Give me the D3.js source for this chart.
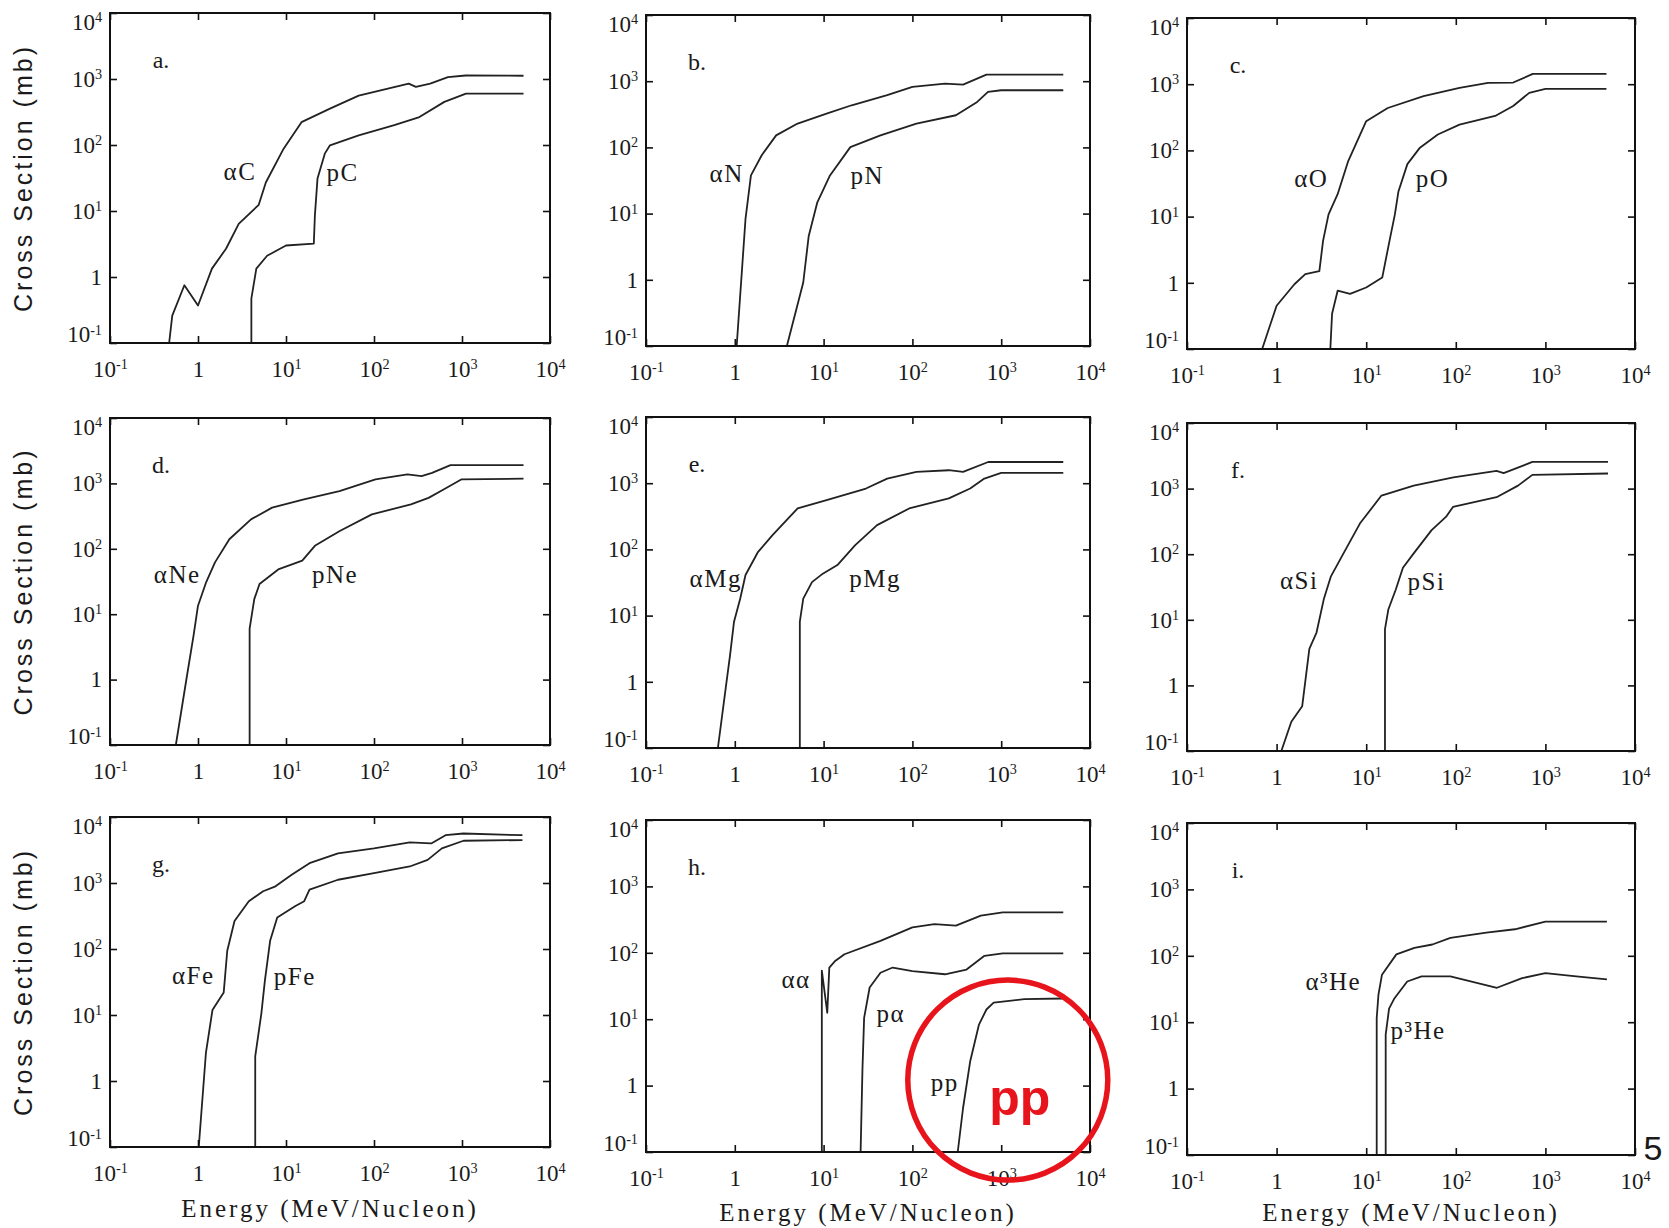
<!DOCTYPE html>
<html>
<head>
<meta charset="utf-8">
<script src="https://cdn.jsdelivr.net/npm/d3@7"></script>
<style>
  body { margin: 0; background: #fff; }
  svg { display: block; }
  .serif { font-family: 'Liberation Serif', 'DejaVu Serif', serif; fill: #1a1a1a; }
  .sans { font-family: 'Liberation Sans', Arial, sans-serif; fill: #1a1a1a; }
</style>
</head>
<body>
<div id="chart"></div>
<script>
// Decade ticks, same on both axes
const energyTicks = [1e-1, 1, 1e1, 1e2, 1e3, 1e4];
const sigmaTicks = [1e-1, 1, 1e1, 1e2, 1e3, 1e4];

const panelLetters = ['a.', 'b.', 'c.', 'd.', 'e.', 'f.', 'g.', 'h.', 'i.'];

// Curves: [energy (MeV/nucleon), cross section (mb)]
const alphaC = [[0.47,0.1],[0.51,0.26],[0.70,0.75],[1.0,0.37],[1.44,1.34],[2.09,2.7],[2.9,6.4],[4.9,12.4],[5.9,27],[9.4,88],[15,222],[31.6,355],[67,560],[248,850],[299,760],[435,850],[692,1070],[1100,1130],[5000,1120]];
const pC = [[4.04,0.1],[4.04,0.47],[4.6,1.34],[6.1,2.1],[10,3.0],[20.7,3.2],[21.3,8.6],[22.8,31],[27.6,74],[31.6,99],[67,140],[170,200],[328,265],[630,450],[1110,600],[5000,600]];

const alphaN = [[1.05,0.1],[1.32,8.3],[1.52,37.7],[2.01,76],[2.92,152],[5.1,229],[10.8,323],[20.7,433],[52,614],[100,820],[233,920],[372,890],[682,1260],[5000,1260]];
const pN = [[3.86,0.1],[5.9,0.91],[6.8,4.6],[8.5,14.8],[11.8,37.7],[20,101],[43.7,152],[111,229],[309,306],[537,486],[710,690],[1000,730],[5000,730]];

const alphaO = [[0.69,0.1],[1.0,0.45],[1.58,0.95],[2.09,1.35],[3.0,1.5],[3.3,4.3],[3.8,10.8],[4.8,21.8],[6.3,69],[10,276],[17.4,437],[43.7,660],[110,880],[229,1050],[437,1060],[724,1430],[4800,1430]];
const pO = [[3.98,0.1],[4.16,0.34],[4.8,0.76],[6.6,0.68],[10,0.85],[15.1,1.2],[18.2,4.3],[20.9,10.8],[22.9,24],[28.8,62],[39.8,110],[63,174],[110,245],[275,331],[437,468],[660,740],[1000,850],[4800,850]];

const alphaNe = [[0.56,0.1],[0.74,1.03],[0.89,4.7],[1.0,13.5],[1.24,31],[1.56,62],[2.27,140],[4.0,282],[6.95,426],[16,570],[40.5,760],[104,1150],[240,1370],[347,1290],[457,1450],[740,1900],[5000,1900]];
const pNe = [[3.86,0.1],[3.86,6.0],[4.36,17],[5.0,29],[8.3,49],[15.3,66],[21.3,111],[40.8,187],[94.6,336],[263,478],[417,600],[610,800],[980,1150],[5000,1180]];

const alphaMg = [[0.645,0.1],[0.79,0.8],[0.885,2.55],[0.98,8.1],[1.15,18],[1.32,41],[1.83,92],[2.66,164],[5.1,417],[10.8,555],[30,830],[52,1175],[111,1480],[257,1570],[372,1480],[714,2090],[5000,2090]];
const pMg = [[5.4,0.1],[5.4,8.1],[5.9,18],[7.4,32],[9.8,43],[14.3,58],[22.7,116],[40,233],[92,415],[257,590],[447,830],[646,1175],[1000,1430],[5000,1430]];

const alphaSi = [[1.13,0.1],[1.46,0.28],[1.93,0.48],[2.32,3.6],[2.79,6.4],[3.36,20.5],[4.04,46],[5.33,92],[8.5,293],[14.8,783],[33.9,1110],[94,1480],[285,1860],[342,1720],[716,2550],[5000,2550]];
const pSi = [[16.2,0.1],[16.2,7.2],[17.7,14.5],[21.4,29],[25.7,62],[33.9,103],[53.7,233],[77.6,370],[93,525],[285,740],[495,1110],[716,1620],[5000,1700]];

const alphaFe = [[1.02,0.1],[1.23,2.66],[1.46,11.9],[1.96,22],[2.15,94],[2.6,266],[3.78,530],[5.5,750],[7.6,890],[11.6,1330],[18.5,2000],[39,2820],[100,3350],[255,4120],[447,3980],[650,5300],[1040,5620],[4860,5300]];
const pFe = [[4.47,0.1],[4.47,2.37],[5.25,10.6],[5.76,33.5],[6.6,133],[7.95,300],[12.8,447],[16.1,530],[18.5,794],[39,1120],[100,1410],[255,1780],[407,2240],[590,3350],[1040,4370],[4860,4470]];

const alphaAlpha = [[9.55,0.1],[9.55,54],[11,12.5],[11.6,60],[13.6,76],[17.2,95],[43.7,151],[100,241],[177,270],[309,257],[590,363],[1040,407],[5000,407]];
const pAlpha = [[26.1,0.1],[27.4,1.8],[28.6,10.5],[33,30],[43.7,50],[60,60],[100,53],[233,47.5],[407,56],[648,90],[1040,98],[5000,98]];
const pp = [[324,0.1],[372,0.46],[447,2.3],[562,8.3],[682,14],[822,17.8],[1820,20],[5000,20.5]];

const alpha3He = [[13.1,0.1],[13.1,11.5],[13.7,26],[15,52],[21.7,105],[34.5,132],[54.8,148],[87,186],[219,224],[457,251],[1000,327],[4860,327]];
const p3He = [[16.5,0.1],[16.5,6.5],[18,16],[20.7,23],[28.7,41],[41.5,49],[87,49],[288,33],[550,46],[1000,55],[2210,49],[4860,44]];

// Curve names and where their labels sit (in data units)
const curveNames = [
    ['αC', 'pC'], ['αN', 'pN'], ['αO', 'pO'],
    ['αNe', 'pNe'], ['αMg', 'pMg'], ['αSi', 'pSi'],
    ['αFe', 'pFe'], ['αα', 'pα', 'pp'], ['α³He', 'p³He']
];
const labelAt = [
    [[3, 39], [44, 38]], [[0.81, 41], [31, 37]], [[2.44, 38], [55, 37]],
    [[0.58, 40], [36, 40]], [[0.61, 36], [38, 36]], [[1.79, 40], [47, 38]],
    [[0.885, 39], [12.6, 38]], [[4.9, 40], [57, 12], [231, 1.1]], [[4.3, 41], [38, 7.6]]
];
const curves = [
    [alphaC, pC], [alphaN, pN], [alphaO, pO],
    [alphaNe, pNe], [alphaMg, pMg], [alphaSi, pSi],
    [alphaFe, pFe], [alphaAlpha, pAlpha, pp], [alpha3He, p3He]
];

// Annotation on panel h
const highlightCenter = [1186, 1.21];
const highlightText = 'pp';
const pageNumber = '5';

// Layout of the scanned frames (slightly skewed per panel)
const width = 1669, height = 1228;
const frameLeft = [110, 646, 1187];
const frameRight = [550, 1090, 1635];
const frameTop = [[13, 15, 18], [418, 417, 423], [817, 820, 823]];
const frameBottom = [[343, 346, 349], [745, 748, 751], [1147, 1152, 1155]];

const svg = d3.select('#chart')
    .append('svg')
    .attr('width', width)
    .attr('height', height);

svg.append('rect').attr('width', width).attr('height', height).attr('fill', '#fff');

// Write "10^n" with a raised exponent
function expLabel(text) {
    text.each(function (d) {
        const t = d3.select(this);
        const e = Math.round(Math.log10(d));
        t.text(null);
        if (e === 0) {
            t.text('1');
        } else {
            t.append('tspan').text('10');
            t.append('tspan')
                .attr('dy', '-0.55em')
                .attr('font-size', '0.62em')
                .text(e < 0 ? '-' + (-e) : e);
        }
    });
}

curves.forEach((set, i) => {
    const row = Math.floor(i / 3), col = i % 3;
    const x0 = frameLeft[col], x1 = frameRight[col];
    const y0 = frameTop[row][col], y1 = frameBottom[row][col];

    const x = d3.scaleLog().domain([1e-1, 1e4]).range([x0, x1]);
    const y = d3.scaleLog().domain([1e-1, 1e4]).range([y1, y0]);

    const g = svg.append('g').attr('class', 'panel');

    // curves
    const line = d3.line().x(d => x(d[0])).y(d => y(d[1]));
    g.selectAll('path.curve')
        .data(set)
        .enter()
        .append('path')
        .attr('class', 'curve')
        .attr('d', line)
        .attr('fill', 'none')
        .attr('stroke', '#222')
        .attr('stroke-width', 1.8)
        .attr('stroke-linejoin', 'round');

    // inward ticks on all four sides
    const tickLen = 7;
    const styleAxis = a => {
        a.select('.domain').remove();
        a.selectAll('.tick line').attr('stroke', '#111').attr('stroke-width', 1.6);
    };
    g.append('g')
        .attr('transform', `translate(0,${y1})`)
        .call(d3.axisBottom(x).tickValues(energyTicks).tickSize(-tickLen).tickPadding(18))
        .call(styleAxis)
        .call(a => a.selectAll('.tick text')
            .attr('class', 'serif')
            .attr('font-size', 23)
            .attr('fill', '#1a1a1a')
            .call(expLabel));
    g.append('g')
        .attr('transform', `translate(0,${y0})`)
        .call(d3.axisTop(x).tickValues(energyTicks).tickSize(-tickLen).tickFormat(''))
        .call(styleAxis);
    g.append('g')
        .attr('transform', `translate(${x0},0)`)
        .call(d3.axisLeft(y).tickValues(sigmaTicks).tickSize(-tickLen).tickPadding(8))
        .call(styleAxis)
        .call(a => a.selectAll('.tick text')
            .attr('class', 'serif')
            .attr('font-size', 23)
            .attr('fill', '#1a1a1a')
            .attr('dy', (d, k) => k === 0 ? '-0.05em' : (k === sigmaTicks.length - 1 ? '0.7em' : '0.32em'))
            .call(expLabel));
    g.append('g')
        .attr('transform', `translate(${x1},0)`)
        .call(d3.axisRight(y).tickValues(sigmaTicks).tickSize(-tickLen).tickFormat(''))
        .call(styleAxis);

    // frame
    g.append('rect')
        .attr('x', x0).attr('y', y0)
        .attr('width', x1 - x0).attr('height', y1 - y0)
        .attr('fill', 'none')
        .attr('stroke', '#111')
        .attr('stroke-width', 2);

    // panel letter
    g.append('text')
        .attr('class', 'serif')
        .attr('x', x0 + 51).attr('y', y0 + 47)
        .attr('text-anchor', 'middle')
        .attr('dominant-baseline', 'central')
        .attr('font-size', 24)
        .text(panelLetters[i]);

    // curve labels
    g.selectAll('text.curve-label')
        .data(curveNames[i])
        .enter()
        .append('text')
        .attr('class', 'serif curve-label')
        .attr('x', (d, k) => x(labelAt[i][k][0]))
        .attr('y', (d, k) => y(labelAt[i][k][1]))
        .attr('text-anchor', 'middle')
        .attr('dominant-baseline', 'central')
        .attr('font-size', 25)
        .attr('letter-spacing', 1.5)
        .text(d => d);

    // axis titles: y on the left column, x on the bottom row
    if (col === 0) {
        g.append('text')
            .attr('class', 'sans')
            .attr('transform', `translate(23,${(y0 + y1) / 2}) rotate(-90)`)
            .attr('text-anchor', 'middle')
            .attr('dominant-baseline', 'central')
            .attr('font-size', 25)
            .attr('letter-spacing', 3)
            .text('Cross Section (mb)');
    }
    if (row === 2) {
        g.append('text')
            .attr('class', 'serif')
            .attr('x', (x0 + x1) / 2)
            .attr('y', Math.min(y1 + 61, height - 16))
            .attr('text-anchor', 'middle')
            .attr('dominant-baseline', 'central')
            .attr('font-size', 25)
            .attr('letter-spacing', 3)
            .text('Energy (MeV/Nucleon)');
    }

    // red highlight around pp in panel h
    if (i === 7) {
        const cx = x(highlightCenter[0]), cy = y(highlightCenter[1]);
        g.append('circle')
            .attr('cx', cx).attr('cy', cy).attr('r', 100)
            .attr('fill', 'none')
            .attr('stroke', '#e8141c')
            .attr('stroke-width', 5.5);
        g.append('text')
            .attr('x', cx + 12).attr('y', cy + 35)
            .attr('text-anchor', 'middle')
            .attr('font-family', "'Liberation Sans', Arial, sans-serif")
            .attr('font-weight', 'bold')
            .attr('font-size', 50)
            .attr('fill', '#e8141c')
            .text(highlightText);
    }
});

svg.append('text')
    .attr('class', 'sans')
    .attr('x', 1653).attr('y', 1160)
    .attr('text-anchor', 'middle')
    .attr('font-size', 34)
    .attr('fill', '#111')
    .text(pageNumber);
</script>
</body>
</html>
